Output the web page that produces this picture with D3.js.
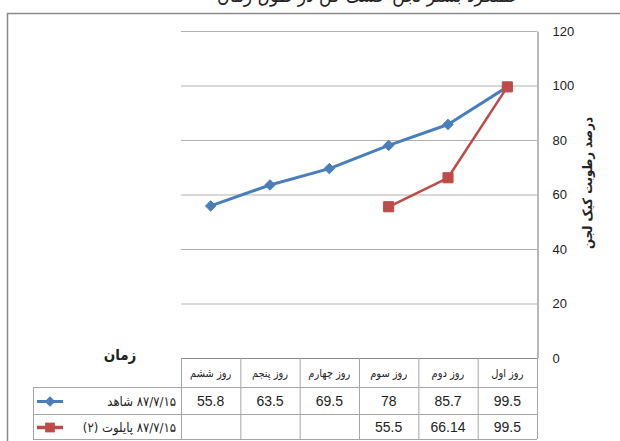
<!DOCTYPE html>
<html>
<head>
<meta charset="utf-8">
<title>chart</title>
<script src="https://d3js.org/d3.v7.min.js"></script>
<style>
  body { margin: 0; background: #fff; }
  svg { display: block; }
  text { font-family: "Liberation Sans Narrow", "Liberation Sans", sans-serif; fill: #222; }
  .fa { font-family: "DejaVu Sans Condensed", "DejaVu Sans", sans-serif; }
</style>
</head>
<body>
<div id="chart"></div>
<script>
// ---- data ----
var categories = ["روز اول", "روز دوم", "روز سوم", "روز چهارم", "روز پنجم", "روز ششم"];
var seriesNames = ["۸۷/۷/۱۵ شاهد", "۸۷/۷/۱۵ پایلوت (۲)"];
var shahed = [99.5, 85.7, 78, 69.5, 63.5, 55.8];
var pilot = [99.5, 66.14, 55.5, null, null, null];
var yTicks = [0, 20, 40, 60, 80, 100, 120];
var colors = ["#4A7EBB", "#BE4B48"];

var W = 620, H = 441;
var plot = {left: 181, right: 537, top: 31, bottom: 358};

var svg = d3.select("#chart").append("svg")
    .attr("width", W).attr("height", H);

// outer chart border
svg.append("rect")
    .attr("x", 7.5).attr("y", 13.5)
    .attr("width", W + 20).attr("height", H + 20)
    .attr("fill", "none").attr("stroke", "#8a8a8a").attr("stroke-width", 1.5);

// title (cut off by the top edge, as in the source)
svg.append("text").attr("class", "fa")
    .attr("x", 368).attr("y", 2)
    .attr("text-anchor", "middle").attr("direction", "rtl")
    .style("font-size", "19px")
    .text("عملکرد بستر لجن خشک کن در طول زمان");

var x = d3.scaleBand().domain(categories).range([plot.right, plot.left]);
var y = d3.scaleLinear().domain([0, 120]).range([plot.bottom, plot.top]);

// grid lines
svg.append("g").selectAll("line")
    .data(yTicks.filter(d => d > 0))
    .enter().append("line")
    .attr("x1", plot.left).attr("x2", plot.right)
    .attr("y1", d => y(d) + 0.5).attr("y2", d => y(d) + 0.5)
    .attr("stroke", "#b3b3b3").attr("stroke-width", 1.2);

// right y axis
var axis = svg.append("g")
    .attr("transform", "translate(" + (plot.right + 0.5) + ",0)")
    .call(d3.axisRight(y).tickValues(yTicks).tickSize(0).tickPadding(15));
axis.select(".domain").attr("stroke", "#8a8a8a").attr("stroke-width", 1.2);
axis.selectAll("text")
    .style("font-size", "13px")
    .style("font-family", "'Liberation Sans Narrow', 'Liberation Sans', sans-serif")
    .attr("fill", "#333");

// y axis title
svg.append("text").attr("class", "fa")
    .attr("transform", "translate(592,183) rotate(-90)")
    .attr("text-anchor", "middle").attr("direction", "rtl")
    .style("font-size", "13px").style("font-weight", "bold")
    .text("درصد رطوبت کیک لجن");

// lines
var line = d3.line()
    .defined(d => d.v != null)
    .x(d => x(d.c) + x.bandwidth() / 2)
    .y(d => y(d.v));

[shahed, pilot].forEach(function (vals, i) {
  var pts = categories.map((c, j) => ({c: c, v: vals[j]}));
  svg.append("path")
      .datum(pts)
      .attr("fill", "none")
      .attr("stroke", colors[i])
      .attr("stroke-width", i === 0 ? 3 : 2.5)
      .attr("stroke-linejoin", "round")
      .attr("d", line);
  var sym = d3.symbol().type(i === 0 ? d3.symbolDiamond2 : d3.symbolSquare2)
      .size(i === 0 ? 70 : 130);
  svg.append("g").selectAll("path")
      .data(pts.filter(d => d.v != null))
      .enter().append("path")
      .attr("transform", d => "translate(" + (x(d.c) + x.bandwidth() / 2) + "," + y(d.v) + ")")
      .attr("d", sym)
      .attr("fill", colors[i])
      .attr("stroke", colors[i]);
});

// data table
var rowY = [plot.bottom, 387, 414, 439];
var tbl = svg.append("g");
var gridCol = "#a6a6a6";

tbl.append("line")
    .attr("x1", plot.left).attr("x2", plot.right)
    .attr("y1", rowY[0] + 0.5).attr("y2", rowY[0] + 0.5)
    .attr("stroke", "#8a8a8a").attr("stroke-width", 1.2);
rowY.slice(1).forEach(function (ry) {
  tbl.append("line")
      .attr("x1", 33).attr("x2", plot.right)
      .attr("y1", ry + 0.5).attr("y2", ry + 0.5)
      .attr("stroke", gridCol).attr("stroke-width", 1);
});
categories.forEach(function (c) {
  tbl.append("line")
      .attr("x1", x(c) + 0.5).attr("x2", x(c) + 0.5)
      .attr("y1", rowY[0]).attr("y2", rowY[3])
      .attr("stroke", gridCol);
});
tbl.append("line")
    .attr("x1", plot.right + 0.5).attr("x2", plot.right + 0.5)
    .attr("y1", rowY[0]).attr("y2", rowY[3]).attr("stroke", gridCol);
tbl.append("line")
    .attr("x1", 33.5).attr("x2", 33.5)
    .attr("y1", rowY[1]).attr("y2", rowY[3]).attr("stroke", gridCol);

// header row
tbl.selectAll("text.cat")
    .data(categories)
    .enter().append("text")
    .attr("class", "fa")
    .attr("x", d => x(d) + x.bandwidth() / 2)
    .attr("y", 377)
    .attr("text-anchor", "middle").attr("direction", "rtl")
    .style("font-size", "11px").style("letter-spacing", "1px")
    .text(d => d);

// value rows
[shahed, pilot].forEach(function (vals, i) {
  tbl.append("g").selectAll("text")
      .data(categories.map((c, j) => ({c: c, v: vals[j]})).filter(d => d.v != null))
      .enter().append("text")
      .attr("x", d => x(d.c) + x.bandwidth() / 2)
      .attr("y", (rowY[i + 1] + rowY[i + 2]) / 2 + 5)
      .attr("text-anchor", "middle")
      .style("font-size", "14px")
      .text(d => d.v);

  // legend key + name
  var cy = (rowY[i + 1] + rowY[i + 2]) / 2 + 1;
  tbl.append("line")
      .attr("x1", 37).attr("x2", 63).attr("y1", cy).attr("y2", cy)
      .attr("stroke", colors[i]).attr("stroke-width", i === 0 ? 3 : 3.5);
  tbl.append("path")
      .attr("transform", "translate(50," + cy + ")")
      .attr("d", d3.symbol().type(i === 0 ? d3.symbolDiamond2 : d3.symbolSquare2).size(i === 0 ? 70 : 120))
      .attr("fill", colors[i]);
  tbl.append("text").attr("class", "fa")
      .attr("x", 176).attr("y", cy + 4)
      .attr("text-anchor", "start").attr("direction", "rtl")
      .style("font-size", "13px").style("letter-spacing", "0.6px")
      .text(seriesNames[i]);
});

// x axis title
svg.append("text").attr("class", "fa")
    .attr("x", 120).attr("y", 360)
    .attr("text-anchor", "middle").attr("direction", "rtl")
    .style("font-size", "15px").style("font-weight", "bold")
    .text("زمان");
</script>
</body>
</html>
